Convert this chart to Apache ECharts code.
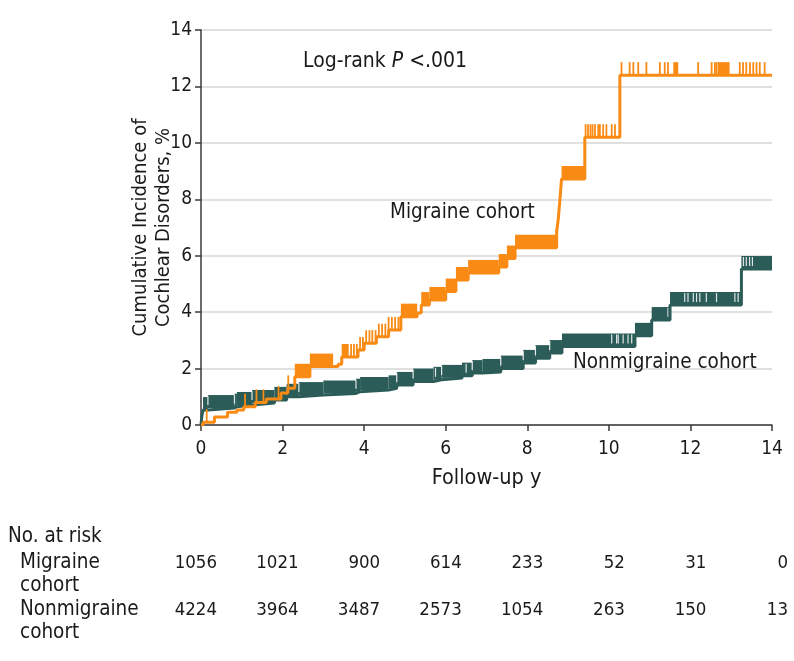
<!DOCTYPE html>
<html><head><meta charset="utf-8">
<script src="https://cdn.jsdelivr.net/npm/echarts@6.0.0/dist/echarts.min.js"></script>
<style>html,body{margin:0;padding:0;background:#fff}#c{width:794px;height:661px}</style>
</head><body><div id="c"></div>
<script>
// ---------- data ----------
const xTickValues = [0, 2, 4, 6, 8, 10, 12, 14];
const riskTimes = [0, 2, 4, 6, 8, 10, 12, 14];
const riskMigraine = [1056, 1021, 900, 614, 233, 52, 31, 0];
const riskNonmigraine = [4224, 3964, 3487, 2573, 1054, 263, 150, 13];

// Kaplan-Meier steps: [time (y), cumulative incidence (%)] ; value holds from time onward
const migraineSteps = [
  [0, 0], [0.05, 0.1], [0.33, 0.28], [0.65, 0.45], [0.88, 0.53], [1.05, 0.65], [1.33, 0.8],
  [1.6, 0.92], [1.96, 1.13], [2.13, 1.3], [2.3, 1.71], [2.67, 2.07], [3.36, 2.15], [3.45, 2.41],
  [3.85, 2.66], [4.0, 2.9], [4.3, 3.13], [4.6, 3.37], [4.9, 3.84], [5.3, 3.97], [5.4, 4.25],
  [5.6, 4.43], [6.0, 4.73], [6.25, 5.14], [6.55, 5.39], [7.3, 5.6], [7.5, 5.9], [7.7, 6.28],
  [8.72, 6.85], [8.76, 7.3], [8.8, 7.98], [8.84, 8.72], [9.41, 10.2], [10.27, 12.4], [14, 12.4]
];
const nonmigraineSteps = [
  [0, 0], [0.02, 0.3], [0.05, 0.53], [0.17, 0.6], [0.82, 0.65], [0.88, 0.71], [1.25, 0.78],
  [1.8, 0.89], [2.1, 1.0], [2.4, 1.06], [3.0, 1.12], [3.8, 1.18], [3.9, 1.24], [4.6, 1.3],
  [4.8, 1.42], [5.2, 1.54], [5.7, 1.6], [5.9, 1.67], [6.4, 1.75], [6.65, 1.84], [6.9, 1.88],
  [7.35, 2.0], [7.9, 2.2], [8.2, 2.37], [8.55, 2.55], [8.85, 2.78], [10.64, 3.16], [11.05, 3.72],
  [11.5, 4.25], [13.25, 5.53], [14, 5.53]
];

// censoring: dense runs [from, to] and single censor times
const migraineCensorRuns = [
  [2.3, 3.24], [3.45, 3.62], [4.9, 5.3], [5.4, 8.72], [8.84, 9.4], [11.58, 11.7], [12.67, 12.96]
];
const migraineCensorTimes = [
  0.14, 1.08, 1.36, 1.53, 1.9, 2.14, 3.68, 3.75, 3.82, 3.9, 3.97, 4.05, 4.13, 4.2, 4.28, 4.36,
  4.44, 4.52, 4.6, 4.68, 4.76, 4.84,
  9.43, 9.49, 9.55, 9.6, 9.66, 9.74, 9.78, 9.86, 9.94, 10.07, 10.15,
  10.31, 10.51, 10.6, 10.72, 10.92, 11.25, 11.37, 11.45, 12.19, 12.52, 12.6, 12.64,
  13.21, 13.29, 13.37, 13.46, 13.54, 13.62, 13.7, 13.82
];
const nonmigraineCensorRuns = [[0.05, 14]];
const nonmigraineCensorGaps = [
  0.17, 0.82, 1.25, 2.4, 3.8, 4.8, 5.2, 5.75, 5.9, 6.5, 6.65, 7.35, 7.9, 8.2, 8.55,
  10.07, 10.19, 10.23, 10.35, 10.47, 10.56, 11.45, 11.86, 11.94, 12.07, 12.15, 12.23,
  12.39, 12.64, 13.09, 13.17, 13.3, 13.37, 13.45, 13.52
];

// ---------- chart ----------
const FONT = "'Liberation Sans Narrow', 'DejaVu Sans Condensed', sans-serif";
const ORANGE = '#F98A14';
const TEAL = '#2B5C58';
const TICK_H = 13;
const TEXT_SIZE = 20.5;

function levelAt(steps, t) {
  let v = steps[0][1];
  for (const s of steps) { if (s[0] <= t + 1e-9) v = s[1]; else break; }
  return v;
}
function runRenderer(steps, color) {
  return function (params, api) {
    const t0 = api.value(0), t1 = api.value(1);
    const pts = [t0];
    steps.forEach(s => { if (s[0] > t0 && s[0] < t1) pts.push(s[0]); });
    pts.push(t1);
    const children = [];
    for (let i = 0; i < pts.length - 1; i++) {
      const v = levelAt(steps, pts[i]);
      const a = api.coord([pts[i], v]);
      const b = api.coord([pts[i + 1], v]);
      children.push({ type: 'rect', shape: { x: a[0], y: a[1] - TICK_H, width: b[0] - a[0], height: TICK_H }, style: { fill: color } });
    }
    return { type: 'group', children };
  };
}
function tickRenderer(steps, color, width, top, bottom) {
  return function (params, api) {
    const t = api.value(0);
    const p = api.coord([t, levelAt(steps, t)]);
    return { type: 'line', shape: { x1: p[0], y1: p[1] - bottom, x2: p[0], y2: p[1] - top }, style: { stroke: color, lineWidth: width } };
  };
}

const chart = echarts.init(document.getElementById('c'), null, { renderer: 'canvas' });
const option = {
  animation: false,
  backgroundColor: '#fff',
  textStyle: { fontFamily: FONT },
  grid: { left: 201, right: 22, top: 30, bottom: 236 },
  xAxis: {
    type: 'value', min: 0, max: 14, interval: 2,
    name: 'Follow-up y', nameLocation: 'middle', nameGap: 42,
    nameTextStyle: { fontSize: 21.5, color: '#1a1a1a', fontFamily: FONT },
    axisLine: { show: true, lineStyle: { color: '#3a3a3a', width: 1.5 } },
    axisTick: { show: true, length: 6, lineStyle: { color: '#3a3a3a', width: 1.5 } },
    axisLabel: { fontSize: 19, color: '#1a1a1a', margin: 15, fontFamily: FONT },
    splitLine: { show: false }
  },
  yAxis: {
    type: 'value', min: 0, max: 14, interval: 2,
    name: 'Cumulative Incidence of\nCochlear Disorders, %', nameLocation: 'middle', nameGap: 26,
    nameRotate: 90, nameMoveOverlap: false,
    nameTextStyle: { fontSize: 20, color: '#1a1a1a', lineHeight: 23, fontFamily: FONT },
    axisLine: { show: true, lineStyle: { color: '#3a3a3a', width: 1.5 } },
    axisTick: { show: true, length: 6, lineStyle: { color: '#3a3a3a', width: 1.5 } },
    axisLabel: { fontSize: 19, color: '#1a1a1a', margin: 9, fontFamily: FONT },
    splitLine: { show: true, lineStyle: { color: '#d6d6d6', width: 1.5 } }
  },
  series: [
    { type: 'custom', name: 'mRuns', data: migraineCensorRuns, encode: { x: [0, 1] }, clip: false, z: 3,
      renderItem: runRenderer(migraineSteps, ORANGE) },
    { type: 'custom', name: 'mTicks', data: migraineCensorTimes.map(t => [t]), encode: { x: 0 }, clip: false, z: 3,
      renderItem: tickRenderer(migraineSteps, ORANGE, 1.8, TICK_H, 0) },
    { type: 'line', name: 'Migraine cohort', data: migraineSteps, step: 'end', symbol: 'none', z: 4,
      lineStyle: { color: ORANGE, width: 3 } },
    { type: 'custom', name: 'nRuns', data: nonmigraineCensorRuns, encode: { x: [0, 1] }, clip: false, z: 2,
      renderItem: runRenderer(nonmigraineSteps, TEAL) },
    { type: 'custom', name: 'nGaps', data: nonmigraineCensorGaps.map(t => [t]), encode: { x: 0 }, clip: false, z: 2,
      renderItem: tickRenderer(nonmigraineSteps, 'rgba(255,255,255,0.85)', 1.2, TICK_H - 1, 3) },
    { type: 'line', name: 'Nonmigraine cohort', data: nonmigraineSteps, step: 'end', symbol: 'none', z: 2,
      lineStyle: { color: TEAL, width: 3 } }
  ]
};
chart.setOption(option);

// ---------- text annotations & number-at-risk table ----------
const txt = (x, y, s, extra) => ({
  type: 'text', x, y, style: Object.assign({ text: s, fontSize: TEXT_SIZE, fill: '#1a1a1a', fontFamily: FONT, verticalAlign: 'middle', align: 'left' }, extra || {})
});
const graphics = [
  { type: 'text', x: 303, y: 62, style: { text: '{a|Log-rank }{b|P}{a| <.001}', fill: '#1a1a1a', verticalAlign: 'middle',
      rich: { a: { fontSize: 21, fontFamily: FONT, fill: '#1a1a1a' }, b: { fontSize: 21, fontFamily: FONT, fontStyle: 'italic', fill: '#1a1a1a' } } } },
  txt(390, 213, 'Migraine cohort'),
  txt(573, 363, 'Nonmigraine cohort'),
  txt(8, 537, 'No. at risk'),
  txt(20, 563, 'Migraine'),
  txt(20, 586, 'cohort'),
  txt(20, 610, 'Nonmigraine'),
  txt(20, 633, 'cohort')
];
riskTimes.forEach((t, i) => {
  const px = chart.convertToPixel({ xAxisIndex: 0 }, t);
  graphics.push(txt(px + 16, 563, String(riskMigraine[i]), { align: 'right', fontSize: 18.5 }));
  graphics.push(txt(px + 16, 610, String(riskNonmigraine[i]), { align: 'right', fontSize: 18.5 }));
});
chart.setOption({ graphic: graphics });
</script>
</body></html>
